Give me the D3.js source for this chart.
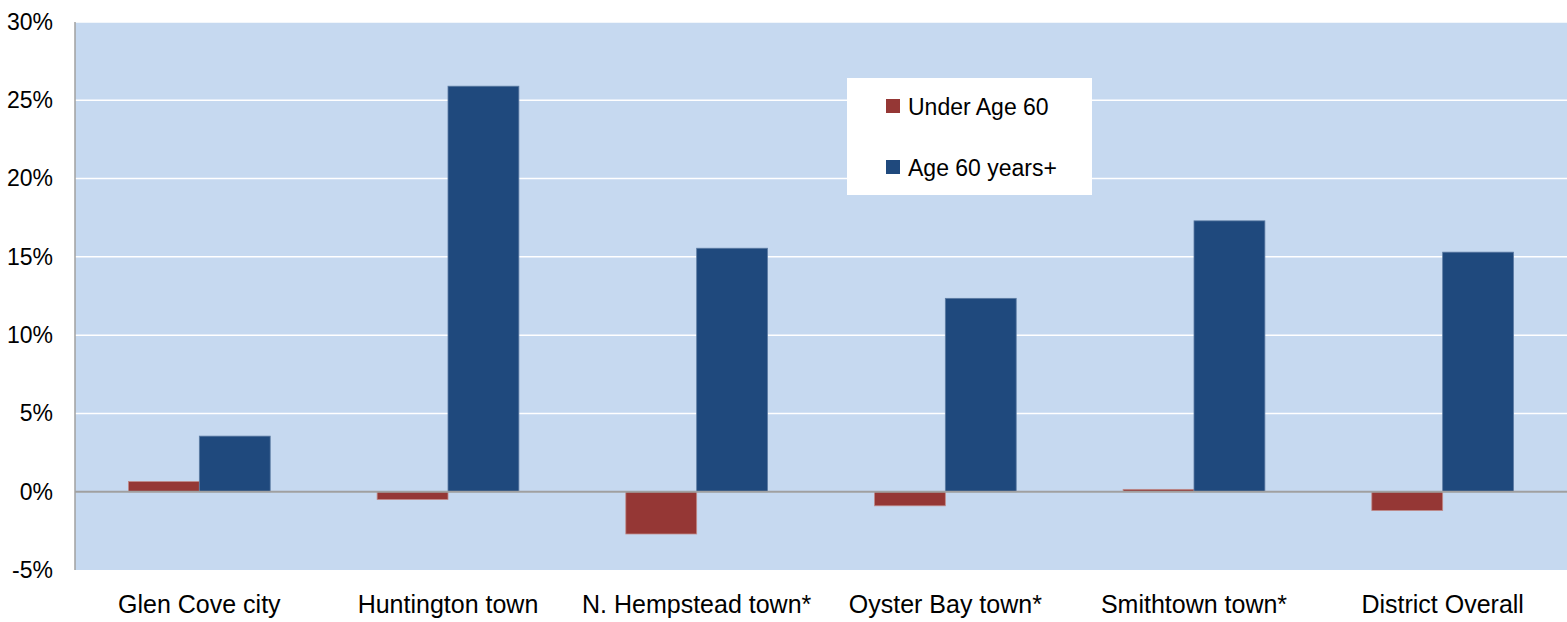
<!DOCTYPE html>
<html><head><meta charset="utf-8">
<script src="https://cdn.jsdelivr.net/npm/d3@7"></script>
<style>body{margin:0;background:#fff;}svg{display:block;font-family:"Liberation Sans",Arial,sans-serif;}</style>
</head><body>
<svg id="c" width="1567" height="622"></svg>
<script>
const categories = ["Glen Cove city","Huntington town","N. Hempstead town*","Oyster Bay town*","Smithtown town*","District Overall"];
const seriesNames = ["Under Age 60","Age 60 years+"];
const underAge60 = [0.65,-0.5,-2.7,-0.9,0.15,-1.2];
const age60Plus = [3.55,25.9,15.55,12.35,17.3,15.3];
const yTicks = [-5,0,5,10,15,20,25,30];
const colors = ["#953735","#1f497d"];
const strokes = ["#c08a89","#5d7ca3"];

const svg = d3.select("#c");
const m = {l:75, r:0, t:22, b:52};
const W = 1567, H = 622;
const x = d3.scaleBand().domain(categories).range([m.l, W-m.r]).paddingInner(0).paddingOuter(0);
const y = d3.scaleLinear().domain([-5,30]).range([H-m.b, m.t]);

svg.append("rect").attr("x",m.l).attr("y",m.t).attr("width",W-m.r-m.l).attr("height",y(-5)-y(30)).attr("fill","#c6d9f0");

svg.append("g").selectAll("line").data(yTicks.filter(d=>d!==0 && d!==-5)).join("line")
  .attr("x1",m.l).attr("x2",W-m.r).attr("y1",d=>y(d)).attr("y2",d=>y(d))
  .attr("stroke","#ffffff").attr("stroke-width",1.5);

const bw = x.bandwidth()*0.285;
const data = [underAge60, age60Plus];
data.forEach((vals,si)=>{
  svg.append("g").selectAll("rect").data(vals).join("rect")
    .attr("x",(d,i)=>x(categories[i])+x.bandwidth()/2 + (si===0?-bw:0))
    .attr("width",bw)
    .attr("y",d=>y(Math.max(0,d)))
    .attr("height",d=>Math.abs(y(d)-y(0)))
    .attr("fill",colors[si]).attr("stroke",strokes[si]).attr("stroke-width",0.8);
});

svg.append("line").attr("x1",m.l).attr("x2",W-m.r).attr("y1",y(0)).attr("y2",y(0)).attr("stroke","#a0a0a0").attr("stroke-width",2);
svg.append("line").attr("x1",m.l).attr("x2",m.l).attr("y1",m.t).attr("y2",y(-5)).attr("stroke","#a0a0a0").attr("stroke-width",1.5);

const yAxis = d3.axisLeft(y).tickValues(yTicks).tickFormat(d=>d+"%").tickSize(0).tickPadding(22);
const ga = svg.append("g").attr("transform",`translate(${m.l},0)`).call(yAxis);
ga.select(".domain").remove();
ga.selectAll("text").attr("font-size",23).attr("fill","#000").attr("font-family","Liberation Sans, Arial, sans-serif");

const xAxis = d3.axisBottom(x).tickSize(0).tickPadding(0);
const gx = svg.append("g").attr("transform",`translate(0,${y(-5)})`).call(xAxis);
gx.select(".domain").remove();
gx.selectAll("text").attr("font-size",25).attr("fill","#000").attr("dy",null).attr("y",43).attr("font-family","Liberation Sans, Arial, sans-serif");

const lg = svg.append("g").attr("transform","translate(847,78)");
lg.append("rect").attr("width",245).attr("height",117).attr("fill","#fff");
seriesNames.forEach((n,i)=>{
  const yy = 27 + i*61;
  lg.append("rect").attr("x",39).attr("y",yy-6).attr("width",14).attr("height",14).attr("fill",colors[i]);
  lg.append("text").attr("x",61).attr("y",yy+10).attr("font-size",23).attr("fill","#000").text(n);
});
</script>
</body></html>
